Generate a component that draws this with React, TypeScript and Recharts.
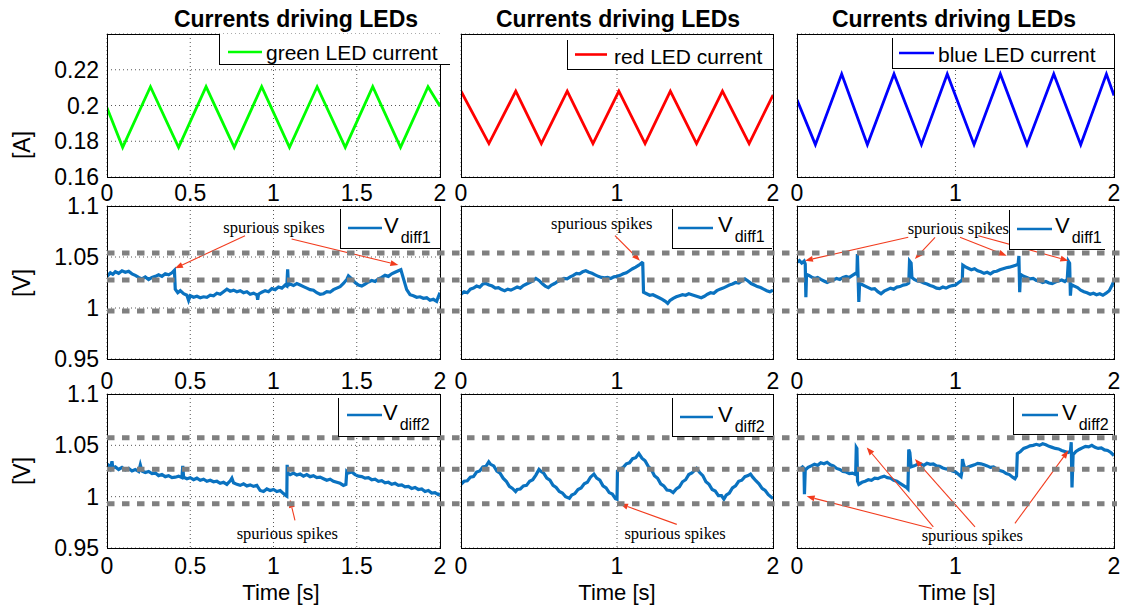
import React from "react";
import { LineChart, Line, XAxis, YAxis, CartesianGrid, ReferenceLine, ReferenceDot } from "recharts";

const FONT = "'Liberation Sans', Arial, Helvetica, sans-serif";
const SERIF = "'Liberation Serif', 'Times New Roman', serif";

type Pt = [number, number];

const timeTicksFine = [0, 0.5, 1, 1.5, 2];
const timeTicksCoarse = [0, 1, 2];
const currentTicks = [0.16, 0.18, 0.2, 0.22];
const voltTicks = [0.95, 1, 1.05, 1.1];

// LED currents (triangle ripple, vertices)
const greenCurrent: Pt[] = [[0, 0.1987], [0.094, 0.1766], [0.261, 0.2105], [0.43, 0.1766], [0.595, 0.2105], [0.764, 0.1766], [0.929, 0.2105], [1.096, 0.1766], [1.262, 0.2105], [1.431, 0.1766], [1.596, 0.2105], [1.763, 0.1766], [1.928, 0.2105], [2.0, 0.1996]];
const redCurrent: Pt[] = [[0, 0.208], [0.179, 0.1787], [0.351, 0.208], [0.515, 0.1787], [0.681, 0.208], [0.846, 0.1787], [1.012, 0.208], [1.18, 0.1787], [1.342, 0.208], [1.51, 0.1787], [1.676, 0.208], [1.847, 0.1787], [2.0, 0.2058]];
const blueCurrent: Pt[] = [[0, 0.2032], [0.116, 0.1781], [0.282, 0.2176], [0.444, 0.1781], [0.612, 0.2176], [0.785, 0.1781], [0.948, 0.2176], [1.117, 0.1781], [1.283, 0.2176], [1.451, 0.1781], [1.62, 0.2176], [1.79, 0.1781], [1.952, 0.2176], [2.0, 0.2056]];

// V_diff1
const vdiff1Green: Pt[] = [[0, 1.031], [0.02, 1.0345], [0.035, 1.033], [0.05, 1.0355], [0.07, 1.034], [0.09, 1.0365], [0.11, 1.035], [0.13, 1.036], [0.15, 1.0335], [0.17, 1.032], [0.19, 1.03], [0.21, 1.0285], [0.23, 1.0305], [0.25, 1.028], [0.27, 1.03], [0.29, 1.031], [0.31, 1.0325], [0.33, 1.031], [0.35, 1.0335], [0.37, 1.0325], [0.39, 1.0345], [0.405, 1.037], [0.41, 1.0185], [0.425, 1.015], [0.44, 1.017], [0.46, 1.014], [0.48, 1.0125], [0.49, 1.0075], [0.5, 1.012], [0.52, 1.0105], [0.54, 1.0115], [0.56, 1.01], [0.58, 1.011], [0.6, 1.0105], [0.62, 1.0125], [0.64, 1.012], [0.66, 1.0145], [0.68, 1.0135], [0.7, 1.016], [0.72, 1.0185], [0.74, 1.0165], [0.76, 1.0175], [0.78, 1.016], [0.8, 1.017], [0.82, 1.015], [0.84, 1.016], [0.86, 1.0135], [0.88, 1.0145], [0.9, 1.013], [0.905, 1.008], [0.91, 1.0135], [0.93, 1.0155], [0.95, 1.017], [0.97, 1.016], [0.99, 1.019], [1.01, 1.018], [1.03, 1.0205], [1.05, 1.0195], [1.07, 1.0225], [1.08, 1.0215], [1.085, 1.038], [1.09, 1.0225], [1.1, 1.0235], [1.12, 1.022], [1.14, 1.024], [1.16, 1.0225], [1.18, 1.021], [1.2, 1.0195], [1.22, 1.018], [1.24, 1.0175], [1.26, 1.015], [1.28, 1.0135], [1.3, 1.014], [1.32, 1.016], [1.34, 1.0155], [1.36, 1.018], [1.38, 1.0195], [1.4, 1.021], [1.42, 1.024], [1.44, 1.028], [1.45, 1.0315], [1.47, 1.0285], [1.49, 1.025], [1.51, 1.0225], [1.53, 1.0215], [1.55, 1.0235], [1.57, 1.0255], [1.59, 1.027], [1.61, 1.026], [1.63, 1.0285], [1.65, 1.03], [1.67, 1.032], [1.69, 1.031], [1.71, 1.0335], [1.73, 1.035], [1.75, 1.0365], [1.765, 1.0375], [1.78, 1.029], [1.8, 1.018], [1.82, 1.013], [1.84, 1.012], [1.86, 1.0105], [1.88, 1.011], [1.9, 1.0095], [1.92, 1.01], [1.94, 1.0075], [1.96, 1.0085], [1.98, 1.0065], [1.99, 1.011], [2.0, 1.015]];
const vdiff1Red: Pt[] = [[0, 1.0135], [0.02, 1.016], [0.04, 1.015], [0.06, 1.0185], [0.08, 1.0195], [0.1, 1.0215], [0.12, 1.0205], [0.14, 1.0235], [0.16, 1.024], [0.18, 1.0225], [0.2, 1.0215], [0.22, 1.0195], [0.24, 1.02], [0.26, 1.018], [0.28, 1.017], [0.3, 1.0185], [0.32, 1.0175], [0.34, 1.019], [0.36, 1.0205], [0.38, 1.0195], [0.4, 1.022], [0.42, 1.0235], [0.44, 1.025], [0.46, 1.0265], [0.48, 1.029], [0.5, 1.027], [0.52, 1.024], [0.54, 1.0215], [0.56, 1.02], [0.58, 1.0225], [0.6, 1.024], [0.62, 1.026], [0.64, 1.0275], [0.66, 1.029], [0.68, 1.0285], [0.7, 1.0305], [0.72, 1.032], [0.74, 1.034], [0.76, 1.0335], [0.78, 1.0355], [0.8, 1.0365], [0.82, 1.035], [0.84, 1.034], [0.86, 1.0325], [0.88, 1.031], [0.9, 1.03], [0.92, 1.0295], [0.94, 1.03], [0.96, 1.029], [0.98, 1.0305], [1.0, 1.031], [1.02, 1.032], [1.04, 1.0335], [1.06, 1.0345], [1.08, 1.0365], [1.1, 1.0385], [1.12, 1.04], [1.14, 1.042], [1.16, 1.0445], [1.165, 1.044], [1.17, 1.0155], [1.19, 1.014], [1.21, 1.0125], [1.23, 1.013], [1.25, 1.0115], [1.27, 1.01], [1.29, 1.0085], [1.31, 1.0065], [1.325, 1.0045], [1.34, 1.0075], [1.36, 1.0095], [1.38, 1.011], [1.4, 1.012], [1.42, 1.013], [1.44, 1.0125], [1.46, 1.014], [1.48, 1.013], [1.5, 1.012], [1.52, 1.011], [1.54, 1.01], [1.56, 1.0115], [1.58, 1.0135], [1.6, 1.015], [1.62, 1.0145], [1.64, 1.017], [1.66, 1.0185], [1.68, 1.0195], [1.7, 1.021], [1.72, 1.0225], [1.74, 1.0235], [1.76, 1.025], [1.78, 1.0245], [1.8, 1.0265], [1.82, 1.0285], [1.84, 1.0265], [1.86, 1.024], [1.88, 1.0225], [1.9, 1.021], [1.92, 1.02], [1.94, 1.0185], [1.96, 1.017], [1.98, 1.016], [2.0, 1.0175]];
const vdiff1Blue: Pt[] = [[0, 1.045], [0.015, 1.0465], [0.03, 1.044], [0.045, 1.046], [0.052, 1.043], [0.056, 1.0105], [0.06, 1.033], [0.075, 1.032], [0.09, 1.0305], [0.11, 1.029], [0.13, 1.03], [0.15, 1.028], [0.17, 1.0265], [0.19, 1.025], [0.21, 1.0265], [0.23, 1.0275], [0.25, 1.029], [0.27, 1.028], [0.29, 1.03], [0.31, 1.031], [0.33, 1.03], [0.35, 1.032], [0.37, 1.034], [0.378, 1.033], [0.381, 1.053], [0.385, 1.033], [0.39, 1.006], [0.395, 1.024], [0.41, 1.023], [0.43, 1.0215], [0.45, 1.02], [0.47, 1.0185], [0.49, 1.019], [0.51, 1.016], [0.53, 1.014], [0.55, 1.0165], [0.57, 1.018], [0.59, 1.0195], [0.61, 1.0185], [0.63, 1.0205], [0.65, 1.021], [0.67, 1.0225], [0.69, 1.023], [0.705, 1.0245], [0.71, 1.046], [0.72, 1.044], [0.725, 1.03], [0.74, 1.028], [0.76, 1.0265], [0.78, 1.026], [0.8, 1.0245], [0.82, 1.0235], [0.84, 1.022], [0.86, 1.021], [0.88, 1.0195], [0.9, 1.019], [0.92, 1.0205], [0.94, 1.0195], [0.96, 1.021], [0.98, 1.022], [1.0, 1.0225], [1.02, 1.025], [1.035, 1.0265], [1.043, 1.028], [1.046, 1.042], [1.06, 1.0405], [1.08, 1.039], [1.1, 1.0375], [1.12, 1.0385], [1.14, 1.0365], [1.16, 1.0355], [1.18, 1.034], [1.2, 1.035], [1.22, 1.0335], [1.24, 1.0355], [1.26, 1.036], [1.28, 1.0375], [1.3, 1.0385], [1.32, 1.0395], [1.34, 1.04], [1.36, 1.041], [1.38, 1.042], [1.395, 1.043], [1.4, 1.051], [1.405, 1.0155], [1.41, 1.033], [1.43, 1.031], [1.45, 1.03], [1.47, 1.0285], [1.49, 1.029], [1.51, 1.027], [1.53, 1.0265], [1.55, 1.025], [1.57, 1.026], [1.59, 1.0245], [1.61, 1.024], [1.63, 1.0255], [1.65, 1.0265], [1.67, 1.0275], [1.69, 1.026], [1.705, 1.028], [1.712, 1.046], [1.72, 1.044], [1.725, 1.012], [1.73, 1.023], [1.75, 1.0215], [1.77, 1.02], [1.79, 1.0175], [1.81, 1.016], [1.83, 1.015], [1.85, 1.0135], [1.87, 1.0145], [1.89, 1.013], [1.91, 1.014], [1.93, 1.0125], [1.95, 1.0145], [1.97, 1.017], [1.99, 1.023], [2.0, 1.027]];

// V_diff2
const vdiff2Green: Pt[] = [[0, 1.027], [0.01, 1.03], [0.02, 1.0275], [0.03, 1.0345], [0.035, 1.028], [0.05, 1.029], [0.07, 1.0265], [0.09, 1.0285], [0.11, 1.026], [0.13, 1.0275], [0.15, 1.025], [0.17, 1.0265], [0.19, 1.0245], [0.2, 1.031], [0.21, 1.025], [0.23, 1.0235], [0.25, 1.0245], [0.27, 1.0225], [0.29, 1.023], [0.31, 1.0205], [0.33, 1.0215], [0.35, 1.0195], [0.37, 1.0205], [0.39, 1.0185], [0.41, 1.019], [0.43, 1.02], [0.45, 1.0185], [0.455, 1.03], [0.46, 1.019], [0.48, 1.0175], [0.5, 1.0185], [0.52, 1.0165], [0.54, 1.018], [0.56, 1.016], [0.58, 1.017], [0.6, 1.015], [0.62, 1.016], [0.64, 1.0145], [0.66, 1.015], [0.68, 1.013], [0.7, 1.014], [0.72, 1.012], [0.74, 1.0155], [0.75, 1.018], [0.76, 1.0135], [0.78, 1.012], [0.8, 1.011], [0.82, 1.0125], [0.84, 1.0105], [0.86, 1.0115], [0.88, 1.01], [0.9, 1.011], [0.92, 1.006], [0.94, 1.005], [0.96, 1.0075], [0.98, 1.006], [1.0, 1.007], [1.02, 1.005], [1.04, 1.006], [1.06, 1.003], [1.075, 1.001], [1.08, 1.0005], [1.082, 1.031], [1.085, 1.023], [1.1, 1.0215], [1.12, 1.023], [1.14, 1.021], [1.16, 1.022], [1.18, 1.02], [1.2, 1.0215], [1.22, 1.0195], [1.24, 1.0205], [1.26, 1.0185], [1.28, 1.019], [1.3, 1.0175], [1.32, 1.016], [1.34, 1.017], [1.36, 1.015], [1.38, 1.014], [1.4, 1.013], [1.42, 1.011], [1.435, 1.012], [1.44, 1.0245], [1.45, 1.023], [1.47, 1.024], [1.49, 1.0215], [1.51, 1.02], [1.53, 1.0195], [1.55, 1.018], [1.57, 1.0185], [1.59, 1.0165], [1.61, 1.017], [1.63, 1.015], [1.65, 1.0155], [1.67, 1.0135], [1.69, 1.014], [1.71, 1.012], [1.73, 1.013], [1.75, 1.011], [1.77, 1.0115], [1.79, 1.0095], [1.81, 1.01], [1.83, 1.008], [1.85, 1.009], [1.87, 1.007], [1.89, 1.0075], [1.91, 1.005], [1.93, 1.006], [1.95, 1.0035], [1.97, 1.004], [1.99, 1.002], [2.0, 1.003]];
const vdiff2Red: Pt[] = [[0, 1.012], [0.02, 1.015], [0.04, 1.0155], [0.06, 1.019], [0.08, 1.0195], [0.1, 1.024], [0.12, 1.025], [0.14, 1.029], [0.16, 1.0295], [0.178, 1.034], [0.19, 1.0315], [0.21, 1.03], [0.23, 1.025], [0.25, 1.023], [0.27, 1.018], [0.29, 1.015], [0.31, 1.01], [0.33, 1.008], [0.35, 1.005], [0.36, 1.007], [0.38, 1.0075], [0.4, 1.0105], [0.42, 1.011], [0.44, 1.015], [0.46, 1.0165], [0.48, 1.021], [0.5, 1.0265], [0.51, 1.025], [0.53, 1.023], [0.55, 1.018], [0.57, 1.016], [0.59, 1.011], [0.61, 1.009], [0.63, 1.005], [0.65, 1.0035], [0.67, 1.0], [0.695, 0.9985], [0.71, 1.0015], [0.73, 1.003], [0.75, 1.007], [0.77, 1.0085], [0.79, 1.0125], [0.81, 1.014], [0.83, 1.019], [0.852, 1.022], [0.87, 1.018], [0.89, 1.016], [0.91, 1.0105], [0.93, 1.0085], [0.95, 1.004], [0.97, 1.0025], [0.99, 0.998], [1.0, 0.9975], [1.003, 1.025], [1.02, 1.027], [1.04, 1.0285], [1.06, 1.032], [1.08, 1.033], [1.1, 1.037], [1.12, 1.038], [1.14, 1.042], [1.16, 1.0375], [1.18, 1.035], [1.2, 1.0295], [1.22, 1.0265], [1.24, 1.0205], [1.26, 1.018], [1.28, 1.0125], [1.3, 1.0105], [1.32, 1.0065], [1.34, 1.006], [1.36, 1.004], [1.38, 1.0075], [1.4, 1.0095], [1.42, 1.0145], [1.44, 1.0165], [1.46, 1.0215], [1.48, 1.023], [1.51, 1.0275], [1.53, 1.0235], [1.55, 1.0205], [1.57, 1.0145], [1.59, 1.012], [1.61, 1.007], [1.63, 1.0055], [1.65, 1.001], [1.67, 1.001], [1.685, 0.9975], [1.7, 1.0015], [1.72, 1.0035], [1.74, 1.0085], [1.76, 1.0105], [1.78, 1.015], [1.8, 1.016], [1.82, 1.0195], [1.84, 1.0205], [1.856, 1.022], [1.87, 1.019], [1.89, 1.0155], [1.91, 1.0125], [1.93, 1.008], [1.95, 1.006], [1.97, 1.002], [1.99, 0.9995], [2.0, 0.998]];
const vdiff2Blue: Pt[] = [[0, 1.028], [0.02, 1.027], [0.035, 1.029], [0.044, 1.0275], [0.047, 1.0025], [0.052, 1.026], [0.07, 1.0285], [0.09, 1.03], [0.11, 1.0315], [0.13, 1.0305], [0.15, 1.033], [0.17, 1.032], [0.19, 1.0335], [0.21, 1.031], [0.23, 1.03], [0.25, 1.0275], [0.27, 1.0265], [0.29, 1.0245], [0.31, 1.024], [0.33, 1.0225], [0.35, 1.023], [0.37, 1.0215], [0.374, 1.048], [0.378, 1.047], [0.382, 1.015], [0.39, 1.012], [0.41, 1.014], [0.43, 1.015], [0.45, 1.0165], [0.47, 1.016], [0.49, 1.018], [0.51, 1.0175], [0.53, 1.019], [0.55, 1.02], [0.57, 1.0185], [0.59, 1.018], [0.61, 1.016], [0.63, 1.015], [0.65, 1.013], [0.67, 1.011], [0.69, 1.009], [0.7, 1.0075], [0.705, 1.046], [0.712, 1.043], [0.72, 1.029], [0.74, 1.03], [0.76, 1.0315], [0.78, 1.032], [0.8, 1.0305], [0.82, 1.0325], [0.84, 1.0315], [0.86, 1.032], [0.88, 1.03], [0.9, 1.0295], [0.92, 1.028], [0.94, 1.027], [0.96, 1.0265], [0.98, 1.025], [1.0, 1.024], [1.02, 1.0215], [1.035, 1.0195], [1.04, 1.024], [1.044, 1.0365], [1.05, 1.032], [1.06, 1.027], [1.08, 1.029], [1.1, 1.03], [1.12, 1.031], [1.14, 1.0325], [1.16, 1.032], [1.18, 1.031], [1.2, 1.03], [1.22, 1.0285], [1.24, 1.029], [1.26, 1.027], [1.28, 1.0255], [1.3, 1.0245], [1.32, 1.0225], [1.34, 1.0215], [1.36, 1.019], [1.375, 1.0175], [1.385, 1.02], [1.39, 1.042], [1.41, 1.044], [1.43, 1.047], [1.45, 1.048], [1.47, 1.0495], [1.49, 1.05], [1.51, 1.051], [1.53, 1.05], [1.55, 1.0515], [1.57, 1.0505], [1.59, 1.049], [1.61, 1.048], [1.63, 1.047], [1.65, 1.0465], [1.67, 1.045], [1.69, 1.044], [1.71, 1.043], [1.725, 1.044], [1.73, 1.053], [1.735, 1.009], [1.742, 1.041], [1.76, 1.044], [1.78, 1.046], [1.8, 1.0475], [1.82, 1.049], [1.84, 1.0485], [1.86, 1.05], [1.88, 1.048], [1.9, 1.047], [1.92, 1.0475], [1.94, 1.0455], [1.96, 1.045], [1.98, 1.043], [2.0, 1.04]];

// grey dashed threshold levels drawn across each row
const vdiff1Bands = [1.054, 1.0275, 0.997];
const vdiff2Bands = [1.0574, 1.0267, 0.993];

type Arrow = [Pt, Pt];
type Note = { at: Pt; arrows: Arrow[] };

const noteR2C1: Note = { at: [1.003, 1.0794], arrows: [[[0.829, 1.0709], [0.408, 1.0389]], [[1.109, 1.0676], [1.75, 1.0422]]] };
const noteR2C2: Note = { at: [0.902, 1.0824], arrows: [[[0.987, 1.0709], [1.147, 1.0464]]] };
const noteR2C3: Note = { at: [1.018, 1.078], arrows: [[[0.702, 1.0693], [0.05, 1.0464]], [[0.871, 1.0693], [0.744, 1.048]], [[1.028, 1.0693], [1.323, 1.0513]], [[1.144, 1.0709], [1.712, 1.0464]]] };
const noteR3C1: Note = { at: [1.083, 0.964], arrows: [[[1.129, 0.977], [1.099, 0.997]]] };
const noteR3C2: Note = { at: [1.372, 0.964], arrows: [[[1.383, 0.973], [1.019, 0.993]]] };
const noteR3C3: Note = { at: [1.106, 0.962], arrows: [[[0.85, 0.969], [0.061, 1.0003]], [[0.86, 0.9706], [0.44, 1.048]], [[1.123, 0.9706], [0.744, 1.0366]], [[1.375, 0.974], [1.712, 1.045]]] };

const NOTE_RED = "#f23c1e";
const VBLUE = "#0a72c0";

const ArrowShape = (props: any) => {
  const { x1, y1, x2, y2 } = props;
  const a = Math.atan2(y2 - y1, x2 - x1);
  const len = 8;
  const half = 3;
  const bx = x2 - len * Math.cos(a);
  const by = y2 - len * Math.sin(a);
  const pts = `${x2},${y2} ${bx - half * Math.sin(a)},${by + half * Math.cos(a)} ${bx + half * Math.sin(a)},${by - half * Math.cos(a)}`;
  return (
    <g>
      <line x1={x1} y1={y1} x2={bx} y2={by} stroke={NOTE_RED} strokeWidth={1.1} />
      <polygon points={pts} fill={NOTE_RED} />
    </g>
  );
};

const NoteText = (props: any) => (
  <text x={props.cx} y={props.cy} textAnchor="middle" dominantBaseline="central" fontFamily={SERIF} fontSize={16.5} fill="#000">
    spurious spikes
  </text>
);

const Y_W = 100;
const TOP_PAD = 16;
const L_PAD = 16;
const tickStyle = { fontSize: 23, fill: "#000", fontFamily: FONT };

type PanelProps = {
  left: number;
  top: number;
  w: number;
  h: number;
  series: Pt[];
  color: string;
  stroke: number;
  yDomain: [number, number];
  yTicks: number[];
  xTicks: number[];
  showY: boolean;
  tickGap: number;
  note?: Note;
};

function Panel(p: PanelProps) {
  const yw = p.showY ? Y_W : 0;
  const data = p.series.map(([t, v]) => ({ t, v }));
  return (
    <div style={{ position: "absolute", left: p.left - yw - L_PAD, top: p.top - TOP_PAD }}>
      <LineChart
        width={L_PAD + yw + p.w + 20}
        height={p.h + TOP_PAD + 40}
        data={data}
        margin={{ top: TOP_PAD, right: 20, bottom: 0, left: L_PAD }}
      >
        <CartesianGrid stroke="#444" strokeDasharray="1 3" strokeWidth={0.9} />
        <XAxis
          dataKey="t"
          type="number"
          domain={[0, 2]}
          ticks={p.xTicks}
          interval={0}
          height={40}
          axisLine={false}
          tickLine={false}
          tickSize={0}
          tickMargin={p.tickGap}
          tick={tickStyle}
          allowDataOverflow
        />
        <YAxis
          type="number"
          domain={p.yDomain}
          ticks={p.yTicks}
          interval={0}
          width={yw}
          axisLine={false}
          tickLine={false}
          tickSize={0}
          tickMargin={8}
          tick={p.showY ? tickStyle : false}
          allowDataOverflow
        />
        <Line dataKey="v" type="linear" stroke={p.color} strokeWidth={p.stroke} dot={false} isAnimationActive={false} />
        {p.note &&
          p.note.arrows.map((a, i) => (
            <ReferenceLine
              key={i}
              segment={[{ x: a[0][0], y: a[0][1] }, { x: a[1][0], y: a[1][1] }]}
              shape={ArrowShape}
              ifOverflow="visible"
            />
          ))}
        {p.note && <ReferenceDot x={p.note.at[0]} y={p.note.at[1]} r={0} shape={NoteText} ifOverflow="visible" />}
      </LineChart>
      <div
        style={{
          position: "absolute",
          left: L_PAD + yw,
          top: TOP_PAD,
          width: p.w + 1,
          height: p.h + 1,
          border: "1.2px solid #000",
          boxSizing: "border-box",
          pointerEvents: "none",
        }}
      />
    </div>
  );
}

function Bands({ left, top, w, h, levels }: { left: number; top: number; w: number; h: number; levels: number[] }) {
  const anchor = [{ t: 0, v: 1 }, { t: 1, v: 1 }];
  return (
    <div style={{ position: "absolute", left, top, pointerEvents: "none" }}>
      <LineChart width={w} height={h} data={anchor} margin={{ top: 0, right: 0, bottom: 0, left: 0 }}>
        <XAxis dataKey="t" type="number" domain={[0, 1]} hide />
        <YAxis type="number" domain={[0.95, 1.1]} hide />
        <Line dataKey="v" stroke="none" dot={false} isAnimationActive={false} />
        {levels.map((l) => (
          <ReferenceLine key={l} y={l} stroke="#808080" strokeWidth={5} strokeDasharray="7.5 7.5" ifOverflow="visible" />
        ))}
      </LineChart>
    </div>
  );
}

type LegendSpec = {
  left: number;
  top: number;
  width: number;
  height: number;
  color: string;
  label: string;
  sub?: string;
  lx1: number;
  lx2: number;
  ly: number;
  tx: number;
  base: number;
};

function LegendBox(s: LegendSpec) {
  return (
    <div
      style={{
        position: "absolute",
        left: s.left,
        top: s.top,
        width: s.width,
        height: s.height,
        background: "#fff",
        borderLeft: "1px solid #000",
        borderBottom: "1px solid #000",
        boxSizing: "border-box",
      }}
    >
      <svg width={s.width} height={s.height} style={{ position: "absolute", left: -1, top: 0, overflow: "visible" }}>
        <line x1={s.lx1} y1={s.ly} x2={s.lx2} y2={s.ly} stroke={s.color} strokeWidth={2.6} />
        <text x={s.tx} y={s.base} fontFamily={FONT} fontSize={s.sub ? 22 : 21} fill="#000">
          {s.label}
          {s.sub && (
            <tspan dx={2} dy={10} fontSize={16}>
              {s.sub}
            </tspan>
          )}
        </text>
      </svg>
    </div>
  );
}

const legends: LegendSpec[] = [
  { left: 219, top: 34, width: 231, height: 31, color: "#00ff00", label: "green LED current", lx1: 9, lx2: 43, ly: 18, tx: 47, base: 26 },
  { left: 567, top: 40, width: 206, height: 30, color: "#ff0000", label: "red LED current", lx1: 8, lx2: 40, ly: 14.5, tx: 47, base: 23.5 },
  { left: 892, top: 38, width: 222, height: 31, color: "#0000ff", label: "blue LED current", lx1: 7, lx2: 42, ly: 15, tx: 46, base: 24 },
  { left: 340, top: 209, width: 100, height: 40, color: VBLUE, label: "V", sub: "diff1", lx1: 8, lx2: 42, ly: 19, tx: 44, base: 24 },
  { left: 672, top: 209, width: 100, height: 40, color: VBLUE, label: "V", sub: "diff1", lx1: 6, lx2: 41, ly: 19, tx: 46, base: 23 },
  { left: 1009, top: 210, width: 96, height: 40, color: VBLUE, label: "V", sub: "diff1", lx1: 8, lx2: 43, ly: 19, tx: 46, base: 23 },
  { left: 338, top: 398, width: 102, height: 39, color: VBLUE, label: "V", sub: "diff2", lx1: 9, lx2: 44, ly: 17, tx: 45, base: 22 },
  { left: 672, top: 398, width: 101, height: 39, color: VBLUE, label: "V", sub: "diff2", lx1: 8, lx2: 41, ly: 19, tx: 46, base: 24 },
  { left: 1013, top: 397, width: 100, height: 38, color: VBLUE, label: "V", sub: "diff2", lx1: 9, lx2: 45, ly: 18, tx: 49, base: 23 },
];

const COLS = [
  { left: 107, w: 333 },
  { left: 461, w: 312 },
  { left: 797, w: 317 },
];
const ROWS = [
  { top: 34, h: 143 },
  { top: 206, h: 153 },
  { top: 394, h: 154 },
];

export default function App() {
  const c = COLS;
  const r = ROWS;
  const cur: [number, number] = [0.16, 0.24];
  const vol: [number, number] = [0.95, 1.1];
  return (
    <div style={{ position: "absolute", left: 0, top: 0, width: 1123, height: 605, background: "#fff", overflow: "hidden", fontFamily: FONT }}>
      <Panel left={c[0].left} top={r[0].top} w={c[0].w} h={r[0].h} series={greenCurrent} color="#00ff00" stroke={2.8} yDomain={cur} yTicks={currentTicks} xTicks={timeTicksFine} showY tickGap={8} />
      <Panel left={c[1].left} top={r[0].top} w={c[1].w} h={r[0].h} series={redCurrent} color="#ff0000" stroke={2.8} yDomain={cur} yTicks={currentTicks} xTicks={timeTicksCoarse} showY={false} tickGap={8} />
      <Panel left={c[2].left} top={r[0].top} w={c[2].w} h={r[0].h} series={blueCurrent} color="#0000ff" stroke={2.8} yDomain={cur} yTicks={currentTicks} xTicks={timeTicksCoarse} showY={false} tickGap={8} />

      <Panel left={c[0].left} top={r[1].top} w={c[0].w} h={r[1].h} series={vdiff1Green} color={VBLUE} stroke={3.2} yDomain={vol} yTicks={voltTicks} xTicks={timeTicksFine} showY tickGap={14} note={noteR2C1} />
      <Panel left={c[1].left} top={r[1].top} w={c[1].w} h={r[1].h} series={vdiff1Red} color={VBLUE} stroke={3.2} yDomain={vol} yTicks={voltTicks} xTicks={timeTicksCoarse} showY={false} tickGap={14} note={noteR2C2} />
      <Panel left={c[2].left} top={r[1].top} w={c[2].w} h={r[1].h} series={vdiff1Blue} color={VBLUE} stroke={3.2} yDomain={vol} yTicks={voltTicks} xTicks={timeTicksCoarse} showY={false} tickGap={14} note={noteR2C3} />

      <Panel left={c[0].left} top={r[2].top} w={c[0].w} h={r[2].h} series={vdiff2Green} color={VBLUE} stroke={3.2} yDomain={vol} yTicks={voltTicks} xTicks={timeTicksFine} showY tickGap={10} note={noteR3C1} />
      <Panel left={c[1].left} top={r[2].top} w={c[1].w} h={r[2].h} series={vdiff2Red} color={VBLUE} stroke={3.2} yDomain={vol} yTicks={voltTicks} xTicks={timeTicksCoarse} showY={false} tickGap={10} note={noteR3C2} />
      <Panel left={c[2].left} top={r[2].top} w={c[2].w} h={r[2].h} series={vdiff2Blue} color={VBLUE} stroke={3.2} yDomain={vol} yTicks={voltTicks} xTicks={timeTicksCoarse} showY={false} tickGap={10} note={noteR3C3} />

      <Bands left={107} top={r[1].top} w={1013} h={r[1].h} levels={vdiff1Bands} />
      <Bands left={107} top={r[2].top} w={1010} h={r[2].h} levels={vdiff2Bands} />

      {legends.map((l, i) => (
        <LegendBox key={i} {...l} />
      ))}

      <svg width={1123} height={605} style={{ position: "absolute", left: 0, top: 0, pointerEvents: "none" }}>
        {[296, 618, 954].map((x) => (
          <text key={x} x={x} y={26.5} textAnchor="middle" fontFamily={FONT} fontSize={23} fontWeight="bold" fill="#000">
            Currents driving LEDs
          </text>
        ))}
        {[281, 617, 957].map((x) => (
          <text key={x} x={x} y={600} textAnchor="middle" fontFamily={FONT} fontSize={22} fill="#000">
            Time [s]
          </text>
        ))}
        <text transform="translate(30,145) rotate(-90)" textAnchor="middle" fontFamily={FONT} fontSize={23} fill="#000">
          [A]
        </text>
        <text transform="translate(30,283) rotate(-90)" textAnchor="middle" fontFamily={FONT} fontSize={23} fill="#000">
          [V]
        </text>
        <text transform="translate(30,471) rotate(-90)" textAnchor="middle" fontFamily={FONT} fontSize={23} fill="#000">
          [V]
        </text>
      </svg>
    </div>
  );
}
